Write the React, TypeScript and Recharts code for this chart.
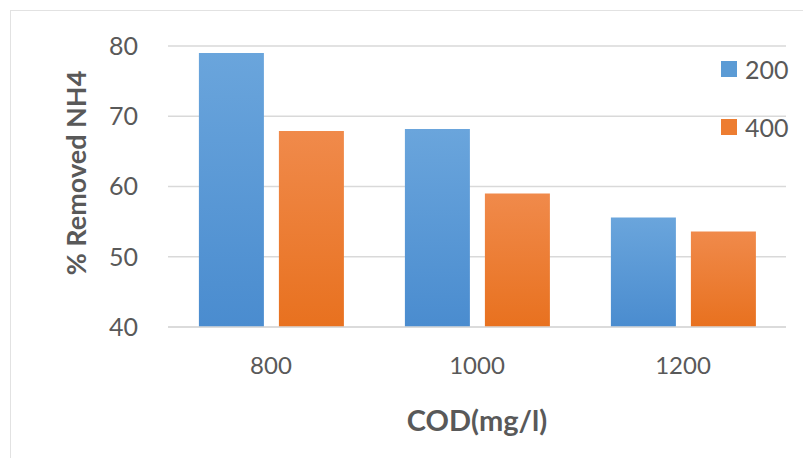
import React from 'react';
import { BarChart, Bar, XAxis, YAxis, CartesianGrid, Legend, Label } from 'recharts';

const categories = ['800', '1000', '1200'];
const series200 = [79.0, 68.2, 55.6];
const series400 = [67.9, 59.0, 53.6];
const yTicks = [40, 50, 60, 70, 80];
const legendColors = ['#5b9bd5', '#ed7d31'];

const data = categories.map((c, i) => ({ cod: c, s200: series200[i], s400: series400[i] }));

const FONT = 'Lato, "Open Sans", sans-serif';
const TEXT = '#595959';

const LegendContent = (props: any) => {
  const { payload } = props;
  return (
    <div style={{ fontFamily: FONT }}>
      {(payload || []).map((p: any, i: number) => (
        <div key={i} style={{ display: 'flex', alignItems: 'center', height: 30, marginBottom: i === 0 ? 28 : 0 }}>
          <div style={{ width: 16, height: 16, background: legendColors[i], marginRight: 8 }} />
          <span style={{ fontSize: 25, color: TEXT }}>{p.value}</span>
        </div>
      ))}
    </div>
  );
};

const YLabel = () => {
  const x = 67;
  const y = 165;
  return (
    <text x={x} y={y} transform={`rotate(-90 ${x} ${y})`} textAnchor="middle" dominantBaseline="central"
      style={{ fontFamily: FONT, fontSize: 27, fontWeight: 700, fill: TEXT }}>
      % Removed NH4
    </text>
  );
};

export default function App() {
  return (
    <div style={{ position: 'relative', width: 803, height: 450 }}>
      <div style={{ position: 'absolute', left: 2, top: 2, width: 801, height: 448, borderTop: '1px solid #e2e2e2', borderLeft: '1px solid #e2e2e2', boxSizing: 'border-box' }} />
      <BarChart width={803} height={450} data={data}
        margin={{ top: 38, right: 25, bottom: 0, left: 0 }}
        barCategoryGap="15%" barGap={15}>
        <defs>
          <linearGradient id="gBlue" x1="0" y1="0" x2="0" y2="1">
            <stop offset="0%" stopColor="#6aa5dc" />
            <stop offset="100%" stopColor="#4a8ccf" />
          </linearGradient>
          <linearGradient id="gOrange" x1="0" y1="0" x2="0" y2="1">
            <stop offset="0%" stopColor="#f08a4b" />
            <stop offset="100%" stopColor="#e8711f" />
          </linearGradient>
        </defs>
        <CartesianGrid vertical={false} stroke="#d9d9d9" strokeWidth={1.5} />
        <XAxis dataKey="cod" height={131} axisLine={{ stroke: '#d9d9d9', strokeWidth: 1.5 }} tickLine={false} tickSize={0} tickMargin={30}
          tick={{ fontFamily: FONT, fontSize: 24, fill: TEXT }}>
          <Label value="COD(mg/l)" position="insideBottom" offset={27}
            style={{ fontFamily: FONT, fontSize: 29, fontWeight: 700, fill: TEXT }} />
        </XAxis>
        <YAxis width={160} domain={[40, 80]} ticks={yTicks} axisLine={false} tickLine={false} tickSize={0} tickMargin={30}
          tick={{ fontFamily: FONT, fontSize: 25, fill: TEXT }} label={<YLabel />} />
        <Legend layout="horizontal" align="center" verticalAlign="middle" content={<LegendContent />}
          wrapperStyle={{ position: 'absolute', left: 713, top: 46, width: 90, height: 100 }} />
        <Bar dataKey="s200" name="200" fill="url(#gBlue)" isAnimationActive={false} legendType="square" />
        <Bar dataKey="s400" name="400" fill="url(#gOrange)" isAnimationActive={false} legendType="square" />
      </BarChart>
    </div>
  );
}
